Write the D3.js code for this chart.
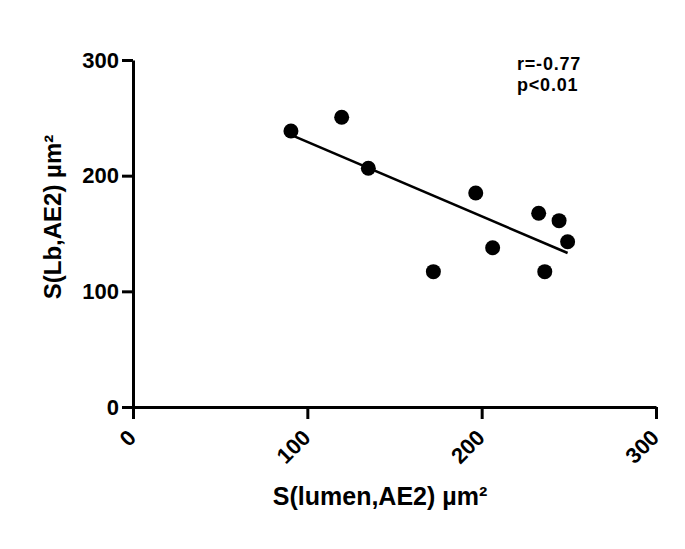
<!DOCTYPE html>
<html><head><meta charset="utf-8">
<script src="https://cdn.jsdelivr.net/npm/d3@7"></script>
<style>body{margin:0;background:#fff}svg{display:block}text{font-family:"Liberation Sans",Arial,sans-serif;font-weight:bold;fill:#000}</style>
</head><body>
<script>
const lumen = [90.6, 119.7, 135.0, 172.3, 196.6, 206.3, 232.7, 236.2, 244.4, 249.3];
const lb    = [238.6, 250.5, 206.4, 117.0, 185.0, 137.7, 167.5, 117.0, 161.1, 142.9];
const xTicks = [0, 100, 200, 300];
const yTicks = [0, 100, 200, 300];
const xTitle = "S(lumen,AE2) µm²";
const yTitle = "S(Lb,AE2) µm²";
const statLines = ["r=-0.77", "p<0.01"];

const W = 685, H = 549;
const svg = d3.select("body").append("svg").attr("width", W).attr("height", H);
const x = d3.scaleLinear().domain([0, 300]).range([133, 656]);
const y = d3.scaleLinear().domain([0, 300]).range([407, 60]);

// linear regression from the data
const mx = d3.mean(lumen), my = d3.mean(lb);
let sxy = 0, sxx = 0;
lumen.forEach((v, i) => { sxy += (v - mx) * (lb[i] - my); sxx += (v - mx) ** 2; });
const slope = sxy / sxx, icpt = my - slope * mx;
const x0 = d3.min(lumen), x1 = d3.max(lumen);

const xAxis = svg.append("g").attr("transform", `translate(0,${y(0)})`)
  .call(d3.axisBottom(x).tickValues(xTicks).tickSize(12).tickSizeOuter(0));
xAxis.selectAll("text").attr("text-anchor", "end").attr("font-size", 22)
  .attr("dy", "0.32em").attr("y", 0).attr("x", 0)
  .attr("transform", "translate(-1,27) rotate(-45)");
const yAxis = svg.append("g").attr("transform", `translate(${x(0)},0)`)
  .call(d3.axisLeft(y).tickValues(yTicks).tickSize(11).tickSizeOuter(0).tickPadding(3));
yAxis.selectAll("text").attr("font-size", 22);
svg.selectAll(".domain, .tick line").attr("stroke", "#000").attr("stroke-width", 3);
svg.selectAll(".tick text").attr("fill", "#000").style("font-family", '"Liberation Sans",Arial,sans-serif').style("font-weight", "bold");

svg.append("line")
  .attr("x1", x(x0)).attr("y1", y(slope * x0 + icpt))
  .attr("x2", x(x1)).attr("y2", y(slope * x1 + icpt))
  .attr("stroke", "#000").attr("stroke-width", 2.6);

svg.append("g").selectAll("circle").data(lumen).join("circle")
  .attr("cx", d => x(d)).attr("cy", (d, i) => y(lb[i])).attr("r", 7.5).attr("fill", "#000");

svg.append("text").attr("x", 380).attr("y", 505).attr("text-anchor", "middle")
  .attr("font-size", 25).text(xTitle);
svg.append("text").attr("transform", "translate(61,217) rotate(-90)").attr("text-anchor", "middle")
  .attr("font-size", 24).text(yTitle);

svg.append("g").selectAll("text").data(statLines).join("text")
  .attr("x", 517).attr("y", (d, i) => 70 + i * 21).attr("font-size", 18)
  .attr("letter-spacing", 0.8).text(d => d);
</script>
</body></html>
